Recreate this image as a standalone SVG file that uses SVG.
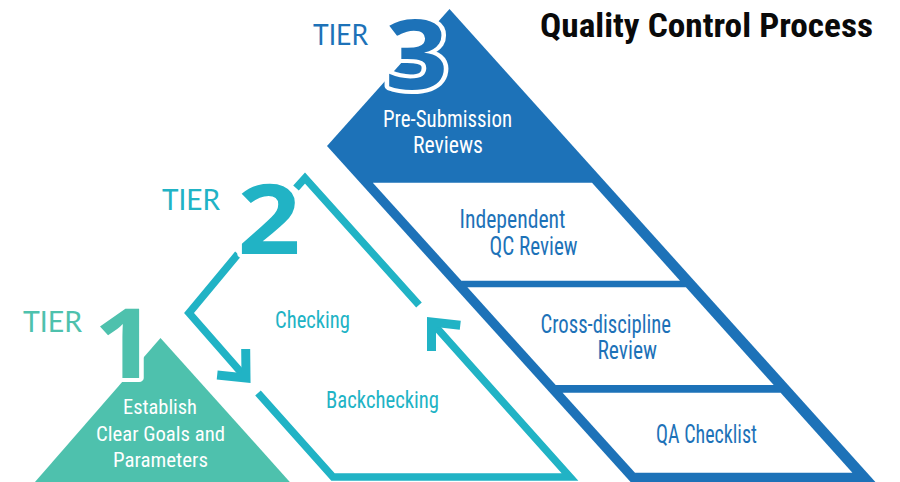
<svg xmlns="http://www.w3.org/2000/svg" xmlns:xlink="http://www.w3.org/1999/xlink" width="900" height="482" viewBox="0 0 900 482">
<style>
.lbl{font-family:"Liberation Sans Narrow","Roboto Condensed","Roboto",sans-serif;font-size:23px;}
.ttl{font-family:"Liberation Sans Narrow","Roboto Condensed","Roboto",sans-serif;font-size:33px;font-weight:700;fill:#0a0a0a;}
.tier{font-family:"Lato","Open Sans",sans-serif;font-size:28px;}
.num{font-family:"Open Sans","Lato",sans-serif;font-weight:700;font-size:96px;stroke:#fff;stroke-width:8;paint-order:stroke;stroke-linejoin:round;text-anchor:middle;}
.blue{fill:#1d72b8}
.teal{fill:#21b3c5}
.green{fill:#4ec1ad}
.wt{fill:#fff}
.conn{fill:none;stroke:#21b3c5;stroke-width:7.5;stroke-linejoin:miter;stroke-miterlimit:10}
.ah{fill:none;stroke:#21b3c5;stroke-width:9;stroke-linejoin:miter;stroke-miterlimit:10}
</style>
<defs>
<path id="ahd" class="ah" d="M-21.6,-19.3 L0,0 L-21.6,19.3"/>
</defs>
<rect width="900" height="482" fill="#fff"/>

<g id="title">
<text class="ttl" x="540" y="37" textLength="333" lengthAdjust="spacingAndGlyphs">Quality Control Process</text>
</g>

<g id="tier3">
<polygon class="blue" points="449.5,9 327,146 637.8,490 882.6,490"/>
<polygon class="wt" points="372.8,182.7 592,182.7 680,280.7 461.4,280.7"/>
<polygon class="wt" points="467.4,287.3 685.9,287.3 773.7,385 555.7,385"/>
<polygon class="wt" points="562.6,392.7 780.6,392.7 852.4,472.7 635,472.7"/>
<text class="tier blue" x="313" y="45" textLength="55" lengthAdjust="spacingAndGlyphs">TIER</text>
<text class="num blue" font-weight="600" transform="translate(416.5,89) scale(1.15,1)">3</text>
<text class="lbl wt" x="383" y="127" textLength="129" lengthAdjust="spacingAndGlyphs">Pre-Submission</text>
<text class="lbl wt" x="413" y="153" textLength="70" lengthAdjust="spacingAndGlyphs">Reviews</text>
</g>

<g id="tier3-row1">
<text class="lbl blue" style="font-size:25px" x="459.5" y="228.3" textLength="106" lengthAdjust="spacingAndGlyphs">Independent</text>
<text class="lbl blue" style="font-size:25px" x="489.6" y="255" textLength="88" lengthAdjust="spacingAndGlyphs">QC Review</text>
</g>
<g id="tier3-row2">
<text class="lbl blue" style="font-size:25px" x="540.5" y="332.7" textLength="130.5" lengthAdjust="spacingAndGlyphs">Cross-discipline</text>
<text class="lbl blue" style="font-size:25px" x="597.4" y="359.3" textLength="59.6" lengthAdjust="spacingAndGlyphs">Review</text>
</g>
<g id="tier3-row3">
<text class="lbl blue" style="font-size:25px" x="656" y="443" textLength="101" lengthAdjust="spacingAndGlyphs">QA Checklist</text>
</g>

<g id="tier1">
<polygon class="green" points="160.5,338 28,490 297,490"/>
<text class="tier green" x="23" y="332" textLength="59" lengthAdjust="spacingAndGlyphs">TIER</text>
<text class="num green" transform="translate(125,378) scale(1.15,1)">1</text>
<text class="lbl wt" style="font-size:21px" x="123" y="414" textLength="74" lengthAdjust="spacingAndGlyphs">Establish</text>
<text class="lbl wt" style="font-size:21px" x="96" y="441" textLength="129" lengthAdjust="spacingAndGlyphs">Clear Goals and</text>
<text class="lbl wt" style="font-size:21px" x="113" y="467" textLength="95" lengthAdjust="spacingAndGlyphs">Parameters</text>
</g>

<g id="connectors">
<polyline class="conn" points="238,254 189,313 246,378"/>
<use xlink:href="#ahd" href="#ahd" transform="translate(246,378) rotate(47.6)"/>
<polyline class="conn" points="296,188 305,178 419,305"/>
<polyline class="conn" points="258,393 333,477 570,477 431.5,322"/>
<use xlink:href="#ahd" href="#ahd" transform="translate(431.5,322) rotate(228.2)"/>
</g>

<g id="tier2">
<text class="tier teal" x="162" y="210" textLength="58" lengthAdjust="spacingAndGlyphs">TIER</text>
<text class="num teal" transform="translate(269,254) scale(1.15,1)">2</text>
<text class="lbl teal" style="font-size:23.5px" x="275" y="328.3" textLength="75" lengthAdjust="spacingAndGlyphs">Checking</text>
<text class="lbl teal" style="font-size:23.5px" x="326" y="408" textLength="113" lengthAdjust="spacingAndGlyphs">Backchecking</text>
</g>
</svg>
